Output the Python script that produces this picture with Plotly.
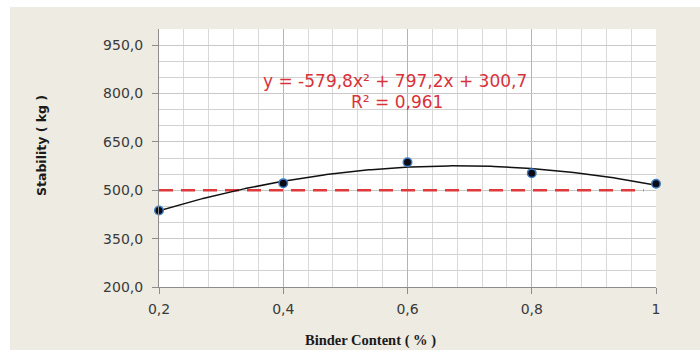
import numpy as np
import plotly.graph_objects as go

# ---- data ----
binder_content = [0.2, 0.4, 0.6, 0.8, 1.0]
stability = [437, 522, 587, 553, 520]
threshold_value = 500
threshold_x = [0.2, 0.98]
equation_text = "y = -579,8x² + 797,2x + 300,7"
r2_text = "R² = 0,961"
x_title = "Binder Content ( % )"
y_title = "Stability ( kg )"

# ---- layout geometry (pixels) ----
W, H = 700, 352
L, R, T, B = 159, 656, 29, 287


def px_x(p):
    return (p - L) / (R - L)


def px_y(p):
    return (B - p) / (B - T)


# polynomial trendline (order 2) fitted from data
coef = np.polyfit(binder_content, stability, 2)
xs = np.linspace(min(binder_content), max(binder_content), 200)
ys = np.polyval(coef, xs)

fig = go.Figure()

fig.add_trace(go.Scatter(
    x=threshold_x, y=[threshold_value] * len(threshold_x), mode="lines",
    line=dict(color="#E0393B", width=2.5, dash="14px,8px"),
    hoverinfo="skip", showlegend=False))

fig.add_trace(go.Scatter(
    x=xs, y=ys, mode="lines", line=dict(color="#111111", width=1.5),
    hoverinfo="skip", showlegend=False, cliponaxis=False))

fig.add_trace(go.Scatter(
    x=binder_content, y=stability, mode="markers", cliponaxis=False,
    marker=dict(size=8.5, color="#0B0B18", line=dict(color="#3E7CC4", width=1.5)),
    showlegend=False))

shapes = [
    # white strips around the beige chart area
    dict(type="rect", xref="paper", yref="paper", x0=px_x(0), x1=px_x(W),
         y0=px_y(0), y1=px_y(7), fillcolor="white", line=dict(width=0), layer="below"),
    dict(type="rect", xref="paper", yref="paper", x0=px_x(0), x1=px_x(10),
         y0=px_y(0), y1=px_y(H), fillcolor="white", line=dict(width=0), layer="below"),
    dict(type="rect", xref="paper", yref="paper", x0=px_x(0), x1=px_x(W),
         y0=px_y(350), y1=px_y(H), fillcolor="white", line=dict(width=0), layer="below"),
]

annotations = [
    dict(text=equation_text, x=px_x(395), y=px_y(81), xref="paper", yref="paper",
         showarrow=False, xanchor="center", yanchor="middle",
         font=dict(family="DejaVu Sans", size=17, color="#D8323A")),
    dict(text=r2_text, x=px_x(397), y=px_y(102), xref="paper", yref="paper",
         showarrow=False, xanchor="center", yanchor="middle",
         font=dict(family="DejaVu Sans", size=17, color="#D8323A")),
    dict(text="<b>" + y_title + "</b>", x=px_x(41), y=px_y(146), xref="paper", yref="paper",
         showarrow=False, textangle=-90, xanchor="center", yanchor="middle",
         font=dict(family="DejaVu Sans", size=12.5, color="#1a1a1a")),
    dict(text="<b>" + x_title + "</b>", x=px_x(370), y=px_y(340), xref="paper", yref="paper",
         showarrow=False, xanchor="center", yanchor="middle",
         font=dict(family="Liberation Serif", size=14.5, color="#1a1a1a")),
]

fig.update_layout(
    width=W, height=H,
    margin=dict(l=L, r=W - R, t=T, b=H - B, pad=0),
    paper_bgcolor="#EEEBE2",
    plot_bgcolor="white",
    separators=", ",
    shapes=shapes,
    annotations=annotations,
    showlegend=False,
    xaxis=dict(
        range=[0.2, 1.0], tick0=0.2, dtick=0.2, tickformat="",
        showline=True, linecolor="#8C8C8C", linewidth=1,
        ticks="outside", ticklen=6, tickcolor="#8C8C8C",
        ticklabelstandoff=3,
        showgrid=True, gridcolor="#B4B4B4", gridwidth=1,
        minor=dict(dtick=0.04, showgrid=True, gridcolor="#D9D9D9", gridwidth=1),
        zeroline=False,
        tickfont=dict(family="DejaVu Sans", size=14, color="#3A3A3A"),
    ),
    yaxis=dict(
        range=[200, 1000], tick0=200, dtick=150, tickformat=".1f",
        showline=True, linecolor="#8C8C8C", linewidth=1,
        ticks="outside", ticklen=6, tickcolor="#8C8C8C",
        ticklabelstandoff=6,
        showgrid=True, gridcolor="#C9C9C9", gridwidth=1,
        minor=dict(dtick=50, tick0=200, showgrid=True, gridcolor="#D2D2D2", gridwidth=1),
        zeroline=False,
        tickfont=dict(family="DejaVu Sans", size=14, color="#3A3A3A"),
    ),
)

fig.write_html("out.html")
